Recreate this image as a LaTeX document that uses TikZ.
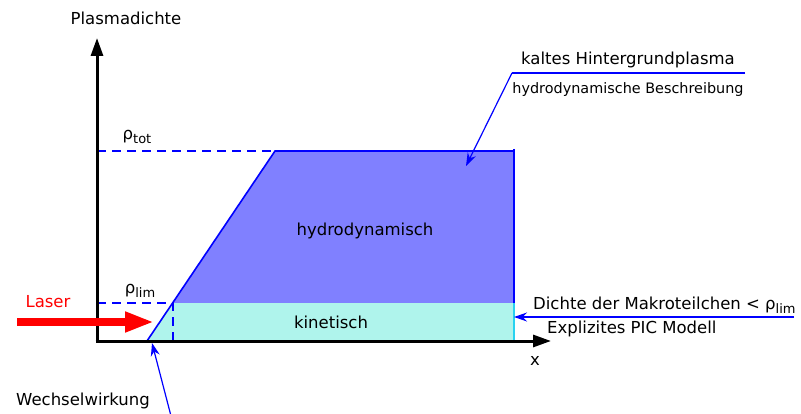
\documentclass[tikz,border=0pt]{standalone}
\usepackage{fontspec}
\setmainfont{DejaVu Sans}
\usetikzlibrary{arrows.meta,calc}
\definecolor{hydro}{RGB}{128,128,255}
\definecolor{kin}{RGB}{175,244,236}
\definecolor{kinedge}{RGB}{40,210,240}
\definecolor{laserred}{RGB}{255,0,0}
\tikzset{
  lbl/.style={inner sep=0pt, font=\fontsize{16.5}{18}\selectfont},
  small/.style={inner sep=0pt, font=\fontsize{14.4}{16}\selectfont},
  axis/.style={line width=3pt, -{Triangle[length=18pt,width=12pt]}},
  guide/.style={blue, line width=1.2pt, dash pattern=on 9pt off 6pt},
  leader/.style={blue, line width=1.2pt},
  leadarrow/.style={blue, line width=1.2pt, -{Stealth[length=13pt,width=9pt]}}
}
\newcommand{\rhosub}[1]{ρ\raisebox{-0.45ex}{\fontsize{13}{14}\selectfont #1}}
\begin{document}
\begin{tikzpicture}[x=1pt,y=-1pt]
\useasboundingbox (0,0) rectangle (801,414);
% points
\coordinate (O) at (97,341);
\coordinate (Ox) at (95.5,341);
\coordinate (Ytip) at (97,38);
\coordinate (Xtip) at (551,341);
\coordinate (A) at (147,341);
\coordinate (B) at (173,303);
\coordinate (C) at (275,151);
\coordinate (D) at (514,151);
\coordinate (E) at (514,303);
\coordinate (F) at (514,341);
\coordinate (Blim) at (97,303);
\coordinate (Btot) at (97,151);
\coordinate (Wtip) at (152,343);
% regions
\fill[kin] (A) -- (B) -- (E) -- (F) -- cycle;
\fill[hydro] (B) -- (C) -- (D) -- (E) -- cycle;
\draw[kinedge, line width=1.2pt] (E) -- (F);
\draw[blue, line width=1.6pt] (A) -- (C) -- (D);
\draw[blue, line width=2pt] (514,149) -- (E);
% guides
\draw[guide] (Btot) -- (C);
\draw[guide] (Blim) -- (B) -- (173,341);
% axes
\draw[axis] (O) -- (Ytip);
\draw[axis] (Ox) -- (Xtip);
% labels
\node[lbl] (ylab) at (126,18) {Plasmadichte};
\node[lbl] (xlab) at (535,361) {x};
\node[lbl] (rtot) at (137,137) {\rhosub{tot}};
\node[lbl] (rlim) at (140,291) {\rhosub{lim}};
\node[lbl] (hyd) at (365,231) {hydrodynamisch};
\node[lbl] (kinl) at (331,322) {kinetisch};
% laser
\node[lbl, text=laserred] (laser) at (48,302) {Laser};
\coordinate (Ls) at (17,322);
\coordinate (Le) at (154,322);
\draw[laserred, line width=8pt, -{Triangle[length=29pt,width=19pt]}] (Ls) -- (Le);
% Wechselwirkung
\node[lbl] (ww) at (83,401) {Wechselwirkung};
\coordinate (Wfoot) at (171,416);
\draw[leadarrow] (Wfoot) -- (Wtip);
% hydro leader
\node[lbl, anchor=base] (kalt) at (628,65) {kaltes Hintergrundplasma};
\node[small, anchor=base] (hbes) at (628,94) {hydrodynamische Beschreibung};
\coordinate (Hl) at (512,73);
\coordinate (Hr) at (745,73);
\coordinate (Htip) at (466,166);
\draw[leader] (Hr) -- (Hl);
\draw[leadarrow] (Hl) -- (Htip);
% Dichte leader
\node[lbl, anchor=base west] (dichte) at (533,309) {Dichte der Makroteilchen < \rhosub{lim}};
\node[lbl, anchor=base west] (pic) at (547,334) {Explizites PIC Modell};
\coordinate (Dr) at (794,317);
\draw[leadarrow] (Dr) -- (E |- Dr);
\end{tikzpicture}
\end{document}
